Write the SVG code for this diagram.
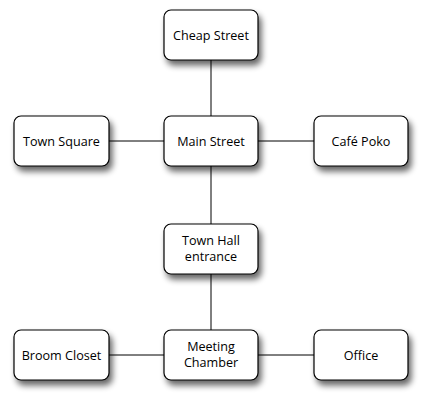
<svg xmlns="http://www.w3.org/2000/svg" width="422" height="400" viewBox="0 0 422 400">
<defs>
<filter id="sh" x="-20%" y="-20%" width="150%" height="160%">
<feGaussianBlur in="SourceAlpha" stdDeviation="3"/>
<feOffset dx="3" dy="5" result="b"/>
<feComponentTransfer><feFuncA type="linear" slope="0.6"/></feComponentTransfer>
<feMerge><feMergeNode/><feMergeNode in="SourceGraphic"/></feMerge>
</filter>
<style>
.n rect{fill:#fff;stroke:#000;stroke-width:1.2;}
.n text{font-family:"Open Sans","DejaVu Sans",sans-serif;font-size:12.6px;fill:#000;text-anchor:middle;}
.e line{stroke:#000;stroke-width:1;}
</style>
</defs>
<rect width="422" height="400" fill="#fff"/>
<g id="connectors" class="e">
<line x1="211" y1="60" x2="211" y2="116"/>
<line x1="109" y1="141" x2="164" y2="141"/>
<line x1="258" y1="141" x2="314" y2="141"/>
<line x1="211" y1="166" x2="211" y2="224"/>
<line x1="211" y1="274" x2="211" y2="330"/>
<line x1="109" y1="355" x2="164" y2="355"/>
<line x1="258" y1="355" x2="314" y2="355"/>
</g>
<g id="cheap-street" class="n"><rect x="164" y="10" width="94" height="50" rx="7" filter="url(#sh)"/><text x="211" y="39.5">Cheap Street</text></g>
<g id="town-square" class="n"><rect x="14" y="116" width="95" height="50" rx="7" filter="url(#sh)"/><text x="61.5" y="145.5">Town Square</text></g>
<g id="main-street" class="n"><rect x="164" y="116" width="94" height="50" rx="7" filter="url(#sh)"/><text x="211" y="145.5">Main Street</text></g>
<g id="cafe-poko" class="n"><rect x="314" y="116" width="94" height="50" rx="7" filter="url(#sh)"/><text x="361" y="145.5">Café Poko</text></g>
<g id="town-hall-entrance" class="n"><rect x="164" y="224" width="94" height="50" rx="7" filter="url(#sh)"/><text x="211" y="245">Town Hall</text><text x="211" y="261">entrance</text></g>
<g id="broom-closet" class="n"><rect x="14" y="330" width="95" height="50" rx="7" filter="url(#sh)"/><text x="61.5" y="359.5">Broom Closet</text></g>
<g id="meeting-chamber" class="n"><rect x="164" y="330" width="94" height="50" rx="7" filter="url(#sh)"/><text x="211" y="351">Meeting</text><text x="211" y="367">Chamber</text></g>
<g id="office" class="n"><rect x="314" y="330" width="94" height="50" rx="7" filter="url(#sh)"/><text x="361" y="359.5">Office</text></g>
</svg>
